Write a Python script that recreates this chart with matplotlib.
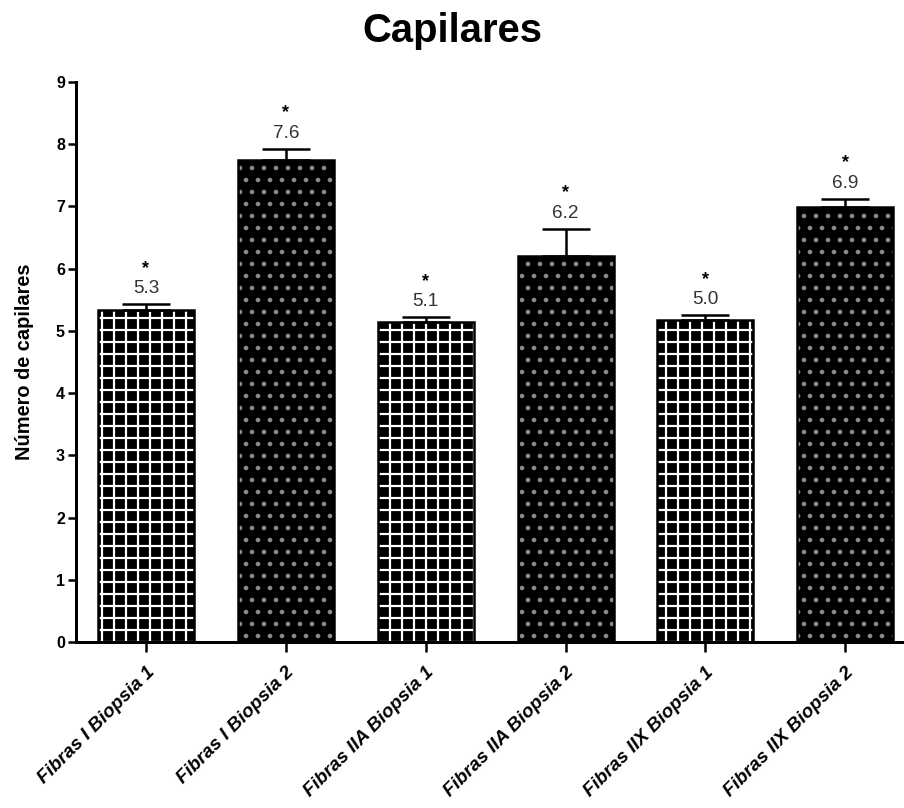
import matplotlib.pyplot as plt
import numpy as np

categories = ["Fibras I Biopsia 1", "Fibras I Biopsia 2",
              "Fibras IIA Biopsia 1", "Fibras IIA Biopsia 2",
              "Fibras IIX Biopsia 1", "Fibras IIX Biopsia 2"]
means = [5.34, 7.74, 5.14, 6.21, 5.17, 6.99]
errors = [0.09, 0.19, 0.08, 0.43, 0.08, 0.13]
value_labels = ["5.3", "7.6", "5.1", "6.2", "5.0", "6.9"]

plt.rcParams['font.family'] = ['Liberation Sans', 'DejaVu Sans']
plt.rcParams['hatch.linewidth'] = 2.2

fig = plt.figure(figsize=(904 / 72, 808 / 72), dpi=72)
ax = fig.add_axes([76 / 904, 1 - 642 / 808, 1 - 76 / 904, (642 - 82) / 808])

x = np.arange(len(categories))
width = 0.686

for i in range(len(categories)):
    if i % 2 == 0:
        hatch, hcol = '+', 'white'
    else:
        hatch, hcol = '.', '#8a8a8a'
    ax.bar(x[i], means[i], width, color='black', edgecolor=hcol,
           hatch=hatch, linewidth=0, zorder=2)
    ax.bar(x[i], means[i], width, fill=False, edgecolor='black',
           linewidth=2.5, zorder=3)

ax.errorbar(x, means, yerr=[np.zeros(len(means)), errors], fmt='none',
            ecolor='black', elinewidth=2.5, capsize=24, capthick=2.5, zorder=4)

for i in range(len(categories)):
    top = means[i] + errors[i]
    ax.annotate(value_labels[i], (x[i], top), xytext=(0, 11),
                textcoords='offset points', ha='center', va='baseline',
                fontsize=19, color='#333333')
    ax.annotate('*', (x[i], top), xytext=(0, 36),
                textcoords='offset points', ha='center', va='center',
                fontsize=18, fontweight='bold', color='black')

ax.set_xlim(-0.5, 5.42)
ax.set_ylim(0, 9)
ax.set_yticks(range(0, 10))
ax.set_xticks(x)
ax.set_xticklabels(categories, rotation=45, ha='right', va='top',
                   rotation_mode='anchor', fontsize=19,
                   fontweight='bold', fontstyle='italic')
for lab in ax.get_yticklabels():
    lab.set_fontweight('bold')
ax.tick_params(axis='y', labelsize=16, length=8, width=2.5, pad=3)
ax.tick_params(axis='x', length=10, width=2.5, pad=12)

for s in ['top', 'right']:
    ax.spines[s].set_visible(False)
for s in ['left', 'bottom']:
    ax.spines[s].set_linewidth(3)

ax.set_ylabel("Número de capilares", fontsize=20, fontweight='bold', labelpad=22)
fig.suptitle("Capilares", fontsize=40, fontweight='bold', y=1 - 31 / 808, va='center')

fig.savefig("out.png", dpi=72)
